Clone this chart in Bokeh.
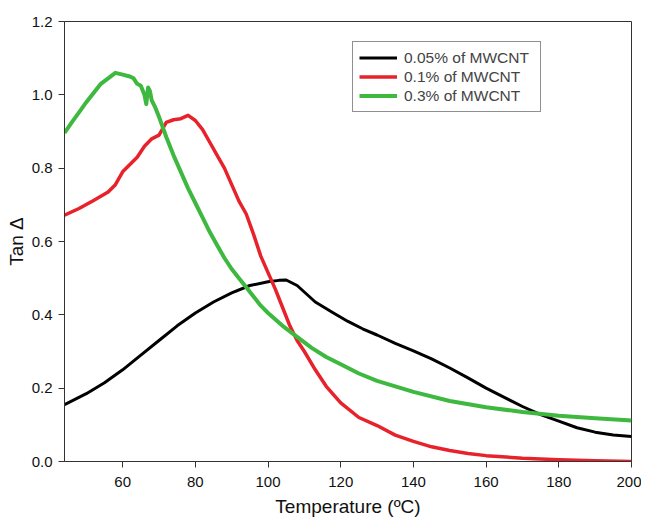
from bokeh.plotting import figure
from bokeh.models import Range1d, FixedTicker, Legend, LegendItem, NumeralTickFormatter
from bokeh.embed import file_html
from bokeh.resources import INLINE

# ---- data ----
t_black = [44, 50, 55, 60, 65, 70, 75, 80, 85, 90, 95, 100, 103, 105, 108, 113, 118, 122, 126, 130,
           135, 140, 145, 150, 155, 160, 165, 170, 175, 180, 185, 190, 195, 200]
v_black = [0.155, 0.185, 0.215, 0.25, 0.29, 0.33, 0.37, 0.405, 0.435, 0.46, 0.48, 0.49, 0.494, 0.495,
           0.48, 0.435, 0.405, 0.382, 0.362, 0.345, 0.322, 0.302, 0.28, 0.255, 0.228, 0.2, 0.175,
           0.15, 0.128, 0.11, 0.092, 0.08, 0.072, 0.068]

t_red = [44, 48, 52, 56, 58, 60, 62, 64, 66, 68, 70, 72, 74, 76, 78, 80, 82, 84, 86, 88, 90, 92, 94,
         96, 98, 100, 102, 104, 106, 108, 110, 113, 116, 120, 125, 130, 135, 140, 145, 150, 155, 160,
         170, 180, 190, 200]
v_red = [0.672, 0.69, 0.712, 0.735, 0.755, 0.79, 0.81, 0.83, 0.86, 0.88, 0.89, 0.925, 0.932, 0.935,
         0.944, 0.93, 0.905, 0.87, 0.835, 0.8, 0.755, 0.71, 0.675, 0.62, 0.56, 0.515, 0.47, 0.42,
         0.37, 0.33, 0.3, 0.25, 0.205, 0.16, 0.12, 0.098, 0.072, 0.055, 0.04, 0.03, 0.022, 0.016,
         0.009, 0.005, 0.002, 0.0]

t_green = [44, 46, 48, 50, 52, 54, 56, 58, 60, 62, 63, 64, 65, 66, 66.5, 67, 67.5, 68, 69, 70, 72, 74,
           76, 78, 80, 82, 84, 86, 88, 90, 92, 94, 96, 98, 100, 104, 108, 112, 116, 120, 125, 130,
           140, 150, 160, 170, 180, 190, 200]
v_green = [0.896, 0.925, 0.952, 0.98, 1.005, 1.03, 1.045, 1.06, 1.055, 1.05, 1.045, 1.03, 1.025, 1.0,
           0.975, 1.02, 1.01, 0.985, 0.965, 0.94, 0.885, 0.835, 0.79, 0.745, 0.705, 0.665, 0.625,
           0.59, 0.555, 0.525, 0.5, 0.475, 0.45, 0.425, 0.405, 0.37, 0.34, 0.31, 0.285, 0.265, 0.24,
           0.22, 0.19, 0.165, 0.148, 0.135, 0.125, 0.118, 0.112]

series_labels = ["0.05% of MWCNT", "0.1% of MWCNT", "0.3% of MWCNT"]
x_ticks = [60, 80, 100, 120, 140, 160, 180, 200]
y_ticks = [0.0, 0.2, 0.4, 0.6, 0.8, 1.0, 1.2]
x_label = "Temperature (ºC)"
y_label = "Tan \u0394"

FONT = "Liberation Sans"

p = figure(width=641, height=521, output_backend="svg", toolbar_location=None,
           x_range=Range1d(44, 200), y_range=Range1d(0, 1.2),
           min_border_left=64, min_border_right=10, min_border_top=21, min_border_bottom=60)

p.xgrid.visible = False
p.ygrid.visible = False
p.outline_line_color = "#333333"
p.outline_line_width = 1
p.background_fill_color = "white"

for ax in (p.xaxis[0], p.yaxis[0]):
    ax.axis_line_color = "#333333"
    ax.major_tick_line_color = "#333333"
    ax.minor_tick_line_color = None
    ax.major_tick_in = 0
    ax.major_tick_out = 6
    ax.major_label_text_font = FONT
    ax.major_label_text_font_size = "15px"
    ax.major_label_text_color = "#111111"
    ax.axis_label_text_font = FONT
    ax.axis_label_text_font_size = "19px"
    ax.axis_label_text_font_style = "normal"
    ax.axis_label_text_color = "#111111"

p.xaxis[0].ticker = FixedTicker(ticks=x_ticks)
p.yaxis[0].ticker = FixedTicker(ticks=y_ticks)
p.yaxis[0].formatter = NumeralTickFormatter(format="0.0")
p.xaxis[0].axis_label = x_label
p.yaxis[0].axis_label = y_label
p.xaxis[0].major_label_standoff = 9
p.xaxis[0].axis_label_standoff = 6
p.yaxis[0].major_label_standoff = 6
p.yaxis[0].axis_label_standoff = 2

r_black = p.line(t_black, v_black, line_color="#000000", line_width=3, line_join="round")
r_red = p.line(t_red, v_red, line_color="#e8222b", line_width=3.5, line_join="round")
r_green = p.line(t_green, v_green, line_color="#3fb83f", line_width=4, line_join="round")

legend = Legend(items=[LegendItem(label=series_labels[0], renderers=[r_black]),
                       LegendItem(label=series_labels[1], renderers=[r_red]),
                       LegendItem(label=series_labels[2], renderers=[r_green])],
                location=(288, 349), margin=0, padding=6, spacing=0,
                glyph_width=38, glyph_height=19, label_height=19, label_standoff=7,
                label_width=130,
                label_text_font=FONT, label_text_font_size="15.5px",
                border_line_color="#222222", border_line_width=1,
                background_fill_color="white", background_fill_alpha=1)
p.add_layout(legend)

open("out.html", "w").write(file_html(p, INLINE))
